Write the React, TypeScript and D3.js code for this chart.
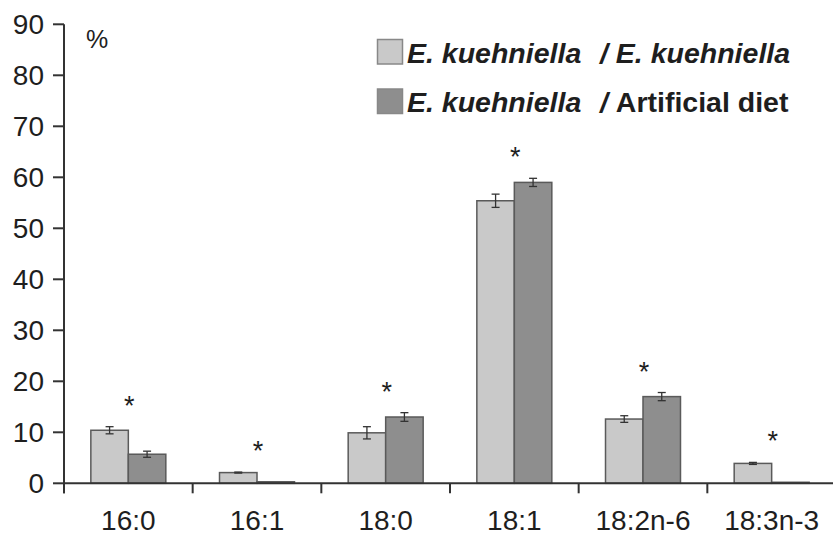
import React from "react";
import * as d3 from "d3";

const categories = ["16:0", "16:1", "18:0", "18:1", "18:2n-6", "18:3n-3"];
const seriesNames = ["E. kuehniella / E. kuehniella", "E. kuehniella / Artificial diet"];
const seriesA = [10.4, 2.1, 9.9, 55.4, 12.6, 3.9];
const errorA = [0.7, 0.1, 1.2, 1.3, 0.65, 0.2];
const seriesB = [5.7, 0.3, 13.0, 59.0, 17.0, 0.2];
const errorB = [0.6, 0.05, 0.85, 0.8, 0.8, 0.05];
const significant = [true, true, true, true, true, true];
const yTicks = [0, 10, 20, 30, 40, 50, 60, 70, 80, 90];

const W = 833;
const H = 535;
const FONT = "'Liberation Sans', Arial, Helvetica, sans-serif";
const TEXT = "#1e1e1e";
const AXIS = "#333";
const FILLS = ["#c9c9c9", "#8e8e8e"];
const STROKE = "#5a5a5a";

export default function App() {
  const x0 = d3.scaleBand<string>().domain(categories).range([64, 836]).paddingInner(0).paddingOuter(0);
  const bw = x0.bandwidth();
  const x1 = d3.scaleBand<number>().domain([0, 1]).range([0, bw]).paddingInner(0).paddingOuter(0.716);
  const y = d3.scaleLinear().domain([0, 90]).range([483.3, 24.3]);

  const series = [
    { values: seriesA, errors: errorA },
    { values: seriesB, errors: errorB },
  ];

  return (
    <svg width={W} height={H} style={{ position: "absolute", left: 0, top: 0, background: "#fff" }}>
      <rect x={0} y={0} width={W} height={H} fill="#fff" />
      {/* bars */}
      {categories.map((c, i) => (
        <g key={c} transform={`translate(${x0(c)},0)`}>
          {series.map((s, k) => {
            const v = s.values[i];
            const e = s.errors[i];
            const bx = x1(k)!;
            const w = x1.bandwidth();
            const cx = bx + w / 2;
            return (
              <g key={k}>
                <rect x={bx} y={y(v)} width={w} height={y(0) - y(v)} fill={FILLS[k]} stroke={STROKE} strokeWidth={1.5} />
                {e > 0.08 && (
                  <g stroke="#333" strokeWidth={1.3}>
                    <line x1={cx} x2={cx} y1={y(v + e)} y2={y(v - e)} />
                    <line x1={cx - 4} x2={cx + 4} y1={y(v + e)} y2={y(v + e)} />
                    <line x1={cx - 4} x2={cx + 4} y1={y(v - e)} y2={y(v - e)} />
                  </g>
                )}
              </g>
            );
          })}
          {significant[i] && (
            <text
              x={bw / 2 + 1}
              y={y(Math.max(seriesA[i] + errorA[i], seriesB[i] + errorB[i])) - 12}
              textAnchor="middle"
              fontFamily={FONT}
              fontSize={27}
              fill={TEXT}
            >
              *
            </text>
          )}
        </g>
      ))}
      {/* y axis */}
      <line x1={64} x2={64} y1={y(90)} y2={y(0) + 10} stroke={AXIS} strokeWidth={2} />
      {yTicks.map((t) => (
        <g key={t}>
          <line x1={53} x2={64} y1={y(t)} y2={y(t)} stroke={AXIS} strokeWidth={2} />
          <text x={44} y={y(t)} dy="0.36em" textAnchor="end" fontFamily={FONT} fontSize={28} fill={TEXT}>
            {t}
          </text>
        </g>
      ))}
      <text x={86} y={48} fontFamily={FONT} fontSize={25} fill={TEXT}>%</text>
      {/* x axis */}
      <line x1={64} x2={836} y1={y(0)} y2={y(0)} stroke={AXIS} strokeWidth={2} />
      {categories.map((c) => (
        <g key={c}>
          <line x1={x0(c)!} x2={x0(c)!} y1={y(0)} y2={y(0) + 10} stroke={AXIS} strokeWidth={2} />
          <text x={x0(c)! + bw / 2} y={530} textAnchor="middle" fontFamily={FONT} fontSize={28} fill={TEXT}>
            {c}
          </text>
        </g>
      ))}
      {/* legend */}
      {seriesNames.map((name, k) => {
        const [left, right] = name.split(" / ");
        const ty = 63 + k * 49;
        return (
          <g key={name}>
            <rect x={377.5} y={39.5 + k * 49.5} width={25} height={24.5} fill={FILLS[k]} stroke="#888" strokeWidth={1.5} />
            <text x={407} y={ty} fontFamily={FONT} fontSize={28.5} fontWeight="bold" fontStyle="italic" fill={TEXT}>
              {left}
            </text>
            <text x={600} y={ty} fontFamily={FONT} fontSize={28.5} fontWeight="bold" fill={TEXT}>
              <tspan fontStyle="italic">/ </tspan>
              <tspan fontStyle={right.startsWith("E.") ? "italic" : "normal"}>{right}</tspan>
            </text>
          </g>
        );
      })}
    </svg>
  );
}
